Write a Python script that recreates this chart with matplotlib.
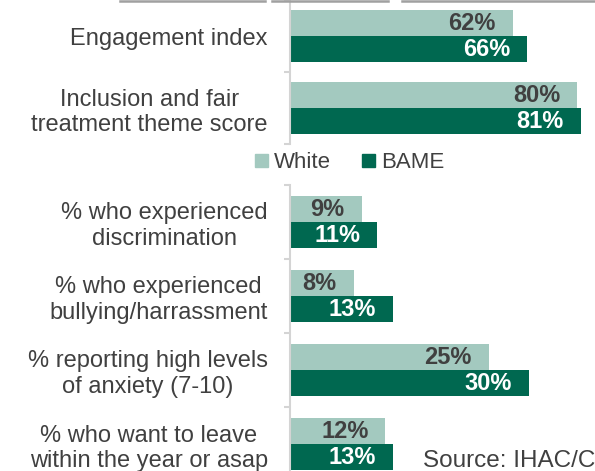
import matplotlib.pyplot as plt
from matplotlib.patches import Patch
from matplotlib.lines import Line2D
from matplotlib.transforms import ScaledTranslation
import numpy as np

plt.rcParams['font.family'] = ['Liberation Sans', 'DejaVu Sans']

# top panel
top_cats = ['Engagement index', 'Inclusion and fair\ntreatment theme score']
top_white = [62, 80]
top_bame = [66, 81]

# bottom panel
bot_cats = ['% who experienced\ndiscrimination',
            '% who experienced\nbullying/harrassment',
            '% reporting high levels\nof anxiety (7-10)',
            '% who want to leave\nwithin the year or asap']
bot_white = [9, 8, 25, 12]
bot_bame = [11, 13, 30, 13]

series_names = ['White', 'BAME']

c_white = '#a3c9bf'
c_bame = '#006850'
c_text = '#404040'
c_axis = '#d4d4d4'

W, H = 595, 471
fig = plt.figure(figsize=(W / 100, H / 100), dpi=100)
nudge_up = ScaledTranslation(0, 3 / 100, fig.dpi_scale_trans)


def panel(rect, cats, white, bame, px_per_unit, bar_px, cat_px):
    ax = fig.add_axes(rect)
    n = len(cats)
    y = np.arange(n)
    h = bar_px / cat_px
    ax.barh(y - h / 2, white, height=h, color=c_white)
    ax.barh(y + h / 2, bame, height=h, color=c_bame)
    for yi, v in zip(y, white):
        ax.annotate(f'{v}%', (v, yi - h / 2), xytext=(-17, 0), textcoords='offset pixels',
                    ha='right', va='center', fontsize=17, fontweight='bold', color=c_text)
    for yi, v in zip(y, bame):
        ax.annotate(f'{v}%', (v, yi + h / 2), xytext=(-17, 0), textcoords='offset pixels',
                    ha='right', va='center', fontsize=17, fontweight='bold', color='white')
    ax.set_xlim(0, (W - 290) / px_per_unit)
    ax.set_ylim(n - 0.5, -0.5)
    ax.set_yticks(y)
    ax.set_yticklabels(cats, fontsize=17, color=c_text, multialignment='center')
    for lab in ax.get_yticklabels():
        lab.set_transform(lab.get_transform() + nudge_up)
    ax.set_yticks(np.arange(n + 1) - 0.5, minor=True)
    ax.tick_params(axis='y', which='major', length=0, pad=16)
    ax.tick_params(axis='y', which='minor', length=4, width=1.5, color=c_axis)
    ax.set_xticks([])
    for s in ['top', 'right', 'bottom']:
        ax.spines[s].set_visible(False)
    ax.spines['left'].set_color(c_axis)
    ax.spines['left'].set_linewidth(1.5)
    ax.patch.set_alpha(0)
    return ax


panel([290 / W, 1 - 144 / H, 1 - 290 / W, 144 / H],
      top_cats, top_white, top_bame, 3.59, 26, 72)
panel([290 / W, (H - 481) / H, 1 - 290 / W, 296 / H],
      bot_cats, bot_white, bot_bame, 7.95, 26, 74)

handles = [Patch(color=c_white, label=series_names[0]),
           Patch(color=c_bame, label=series_names[1])]
fig.legend(handles=handles, loc='center', bbox_to_anchor=(350 / W, 1 - 163 / H),
           ncol=2, frameon=False, fontsize=16, handlelength=0.55, handleheight=0.55,
           handletextpad=0.3, columnspacing=1.4, labelcolor=c_text)

# edge of the box above, cut off by the crop
for x0, x1 in [(120, 265), (272, 388), (402, 595)]:
    fig.add_artist(Line2D([x0 / W, x1 / W], [1 - 1 / H, 1 - 1 / H],
                          color='#a0a0a0', lw=1.8))

fig.text(423 / W, 1 - 467 / H, 'Source: IHAC/CSP', fontsize=17.5, color=c_text,
         ha='left', va='baseline')

fig.savefig('out.png', dpi=100)
